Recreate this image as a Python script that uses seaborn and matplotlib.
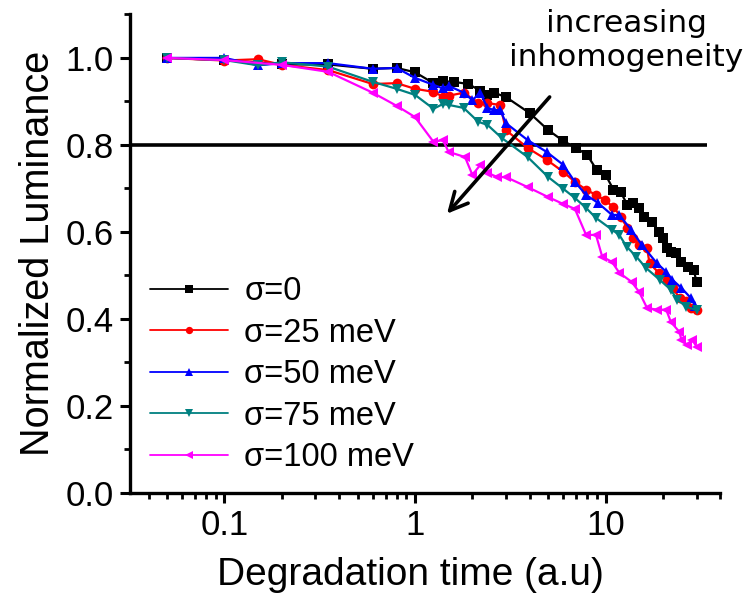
import numpy as np
import pandas as pd
import seaborn as sns
import matplotlib
matplotlib.use("Agg")
import matplotlib.pyplot as plt
from matplotlib.ticker import LogLocator, MultipleLocator, FixedLocator, NullFormatter

sns.set_style("ticks")
plt.rcParams['font.family'] = ['Liberation Sans', 'DejaVu Sans']
for k in ["text.color", "axes.labelcolor", "xtick.color", "ytick.color", "axes.edgecolor"]:
    plt.rcParams[k] = "black"

labels = ["σ=0", "σ=25 meV", "σ=50 meV", "σ=75 meV", "σ=100 meV"]
colors = ["#000000", "#FF0000", "#0000FF", "#008080", "#FF00FF"]
markers = ["s", "o", "^", "v", "<"]

x0 = [0.05, 0.1, 0.2, 0.35, 0.6, 0.8, 1.0, 1.25, 1.4, 1.6, 1.9, 2.2, 2.4, 2.6, 3.0, 4.0, 5.0, 6.0, 7.0,
      8.0, 9.0, 10, 11, 12, 13, 14, 15, 16, 17.5, 19, 20, 21, 22, 23.5, 25, 27, 29, 30]
y0 = [1.0, 0.995, 0.985, 0.985, 0.975, 0.977, 0.967, 0.942, 0.946, 0.945, 0.94, 0.925, 0.915, 0.92, 0.91,
      0.873, 0.834, 0.809, 0.793, 0.777, 0.742, 0.731, 0.697, 0.692, 0.662, 0.667, 0.655, 0.634, 0.623,
      0.600, 0.586, 0.563, 0.554, 0.552, 0.531, 0.52, 0.513, 0.485]

x25 = [0.05, 0.1, 0.15, 0.2, 0.35, 0.6, 0.8, 1.0, 1.25, 1.4, 1.5, 1.8, 2.15, 2.4, 2.8, 3.0, 3.9, 4.9, 6.0,
       6.9, 7.9, 8.9, 9.9, 11, 12, 13, 14, 15, 16.5, 17, 19, 21, 22.5, 24.5, 26.5, 28, 30]
y25 = [1.0, 0.994, 0.997, 0.984, 0.972, 0.940, 0.942, 0.929, 0.922, 0.911, 0.913, 0.92, 0.897, 0.896,
       0.892, 0.834, 0.793, 0.766, 0.738, 0.715, 0.697, 0.685, 0.673, 0.657, 0.635, 0.609, 0.586, 0.57,
       0.563, 0.528, 0.506, 0.49, 0.47, 0.448, 0.44, 0.425, 0.42]

x50 = [0.05, 0.1, 0.15, 0.2, 0.35, 0.6, 0.8, 1.0, 1.25, 1.4, 1.5, 1.8, 2.0, 2.2, 2.4, 2.6, 2.8, 3.0, 3.9,
       4.9, 6.0, 6.9, 7.9, 9.1, 10.8, 11.8, 13.6, 15.5, 18.5, 20.8, 22.4, 25, 28, 29.5]
y50 = [1.0, 1.0, 0.983, 0.988, 0.988, 0.975, 0.977, 0.954, 0.938, 0.93, 0.936, 0.92, 0.903, 0.92, 0.885,
       0.880, 0.88, 0.850, 0.811, 0.784, 0.754, 0.715, 0.685, 0.667, 0.639, 0.639, 0.605, 0.57, 0.529,
       0.508, 0.49, 0.471, 0.448, 0.43]

x75 = [0.05, 0.1, 0.15, 0.2, 0.35, 0.6, 0.8, 1.0, 1.25, 1.4, 1.5, 1.8, 2.15, 2.4, 2.85, 3.9, 5.0, 6.0,
       6.9, 7.9, 8.9, 10.8, 11.8, 12.9, 14.5, 16.3, 19.2, 22, 23.8, 26.5, 30]
y75 = [1.0, 0.995, 0.983, 0.99, 0.98, 0.945, 0.929, 0.915, 0.883, 0.894, 0.892, 0.885, 0.853, 0.846,
       0.816, 0.772, 0.726, 0.699, 0.678, 0.655, 0.632, 0.605, 0.593, 0.566, 0.543, 0.517, 0.49, 0.467,
       0.444, 0.428, 0.42]

x100 = [0.05, 0.1, 0.2, 0.35, 0.6, 0.8, 1.0, 1.25, 1.4, 1.5, 1.83, 2.0, 2.2, 2.4, 2.7, 3.0, 3.9, 5.0,
        6.0, 6.9, 7.9, 8.9, 9.6, 10.8, 11.8, 13.7, 15, 16.5, 18.7, 20.8, 22, 24.4, 25, 26.8, 28.5, 30]
y100 = [1.0, 0.995, 0.984, 0.968, 0.92, 0.89, 0.864, 0.807, 0.811, 0.784, 0.772, 0.731, 0.754, 0.736,
        0.726, 0.726, 0.703, 0.680, 0.664, 0.653, 0.593, 0.593, 0.543, 0.531, 0.506, 0.485, 0.462, 0.425,
        0.421, 0.421, 0.393, 0.370, 0.352, 0.340, 0.352, 0.336]

xs = [x0, x25, x50, x75, x100]
ys = [y0, y25, y50, y75, y100]

frames = []
for lab, x, y in zip(labels, xs, ys):
    frames.append(pd.DataFrame({"time": x, "lum": y, "series": lab}))
df = pd.concat(frames, ignore_index=True)

fig = plt.figure(figsize=(7.48, 6.01), dpi=100)
ax = fig.add_axes([0.174, 0.180, 0.789, 0.796])

ax.hlines(0.8, 0.032, 34, color="black", lw=2.6, zorder=1)

sns.lineplot(data=df, x="time", y="lum", hue="series", style="series", hue_order=labels,
             style_order=labels, palette=colors, markers=markers, dashes=False, sort=False,
             estimator=None, units="series", lw=1.6, markersize=7, markeredgewidth=0,
             ax=ax, zorder=3)

ax.set_xscale("log")
ax.set_xlim(0.032, 40)
ax.set_ylim(0, 1.1)
ax.yaxis.set_major_locator(FixedLocator([0.0, 0.2, 0.4, 0.6, 0.8, 1.0]))
ax.yaxis.set_minor_locator(MultipleLocator(0.1))
ax.set_yticklabels(["0.0", "0.2", "0.4", "0.6", "0.8", "1.0"])
ax.xaxis.set_major_locator(FixedLocator([0.1, 1, 10]))
ax.set_xticklabels(["0.1", "1", "10"])
ax.xaxis.set_minor_locator(LogLocator(base=10, subs=np.arange(2, 10)))
ax.xaxis.set_minor_formatter(NullFormatter())

for s in ["top", "right"]:
    ax.spines[s].set_visible(False)
for s in ["left", "bottom"]:
    ax.spines[s].set_linewidth(2.4)
ax.tick_params(which="major", length=7, width=2.2, labelsize=25, direction="out", pad=5)
ax.tick_params(which="minor", length=4, width=2, direction="out")

ax.set_xlabel("Degradation time (a.u)", fontsize=28, labelpad=8)
ax.xaxis.set_label_coords(0.475, -0.135)
ax.set_ylabel("Normalized Luminance", fontsize=28.5, labelpad=6)

leg = ax.legend(loc="lower left", bbox_to_anchor=(0.0, 0.0), frameon=False, fontsize=23.5,
                handlelength=2.4, labelspacing=0.32, handletextpad=0.5, markerscale=0.75,
                borderaxespad=0.3, borderpad=0.3)
for h in leg.legend_handles:
    h.set_linewidth(1.3)

ax.annotate("", xy=(1.44, 0.637), xytext=(5.2, 0.915),
            arrowprops=dict(arrowstyle="->", lw=2.6, color="black", mutation_scale=32))
ax.text(12.8, 1.04, "increasing\ninhomogeneity", ha="center", va="center", fontsize=22.5,
        family=["DejaVu Sans"], linespacing=1.2, color="black")

fig.savefig("out.png", dpi=100)
